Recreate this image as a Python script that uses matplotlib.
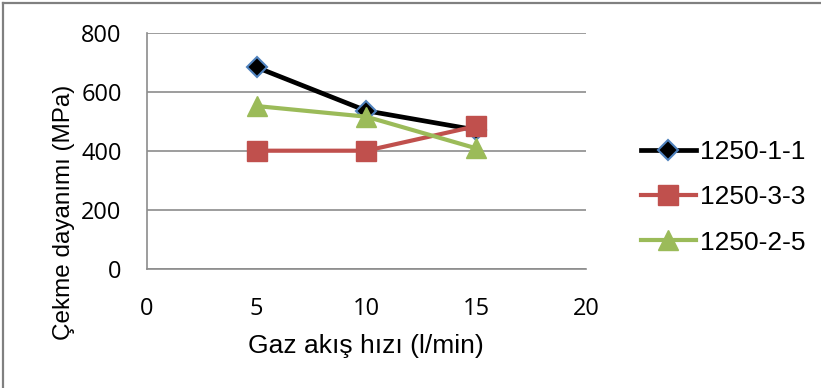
import matplotlib
matplotlib.use('Agg')
import matplotlib.pyplot as plt
from matplotlib.lines import Line2D

plt.rcParams['font.family'] = ['Liberation Sans', 'DejaVu Sans']

gas_flow = [5, 10, 15]
s_1250_1_1 = [683, 536, 471]
s_1250_3_3 = [401, 401, 484]
s_1250_2_5 = [552, 516, 409]
series_names = ['1250-1-1', '1250-3-3', '1250-2-5']
x_ticks = [0, 5, 10, 15, 20]
y_ticks = [0, 200, 400, 600, 800]

W, H = 821, 388
fig = plt.figure(figsize=(W / 100, H / 100), dpi=100)
ax = fig.add_axes([146.7 / W, 1 - 269.3 / H, (586 - 146.7) / W, (269.3 - 32.7) / H])

ax.plot(gas_flow, s_1250_1_1, color='black', lw=3.4, marker='D', ms=10,
        mfc='black', mec='#4F81BD', mew=1.5, label=series_names[0], zorder=3)
ax.plot(gas_flow, s_1250_3_3, color='#C0504D', lw=3.0, marker='s', ms=14,
        mfc='#C0504D', mec='#C0504D', label=series_names[1], zorder=4)
ax.plot(gas_flow, s_1250_2_5, color='#9BBB59', lw=3.0, marker='^', ms=15,
        mfc='#9BBB59', mec='#9BBB59', label=series_names[2], zorder=5)

ax.set_xlim(0, 20)
ax.set_ylim(0, 800)
ax.set_xticks(x_ticks)
ax.set_yticks(y_ticks)
ax.tick_params(length=0, labelsize=17, labelfontfamily='Open Sans')
ax.tick_params(axis='x', pad=20)
ax.tick_params(axis='y', pad=18)
ax.yaxis.grid(True, color='#8C8C8C', lw=1.2)
ax.set_axisbelow(True)
for s in ['top', 'right']:
    ax.spines[s].set_visible(False)
for s in ['left', 'bottom']:
    ax.spines[s].set_color('#8C8C8C')
    ax.spines[s].set_linewidth(1.2)

ax.set_xlabel('Gaz akış hızı (l/min)', fontsize=19, labelpad=9)
ax.set_ylabel('Çekme dayanımı (MPa)', fontsize=17.5)
ax.yaxis.set_label_coords(-0.163, 0.24)

ax.legend(loc='center left', bbox_to_anchor=(630 / W, 1 - 197.5 / H),
          bbox_transform=fig.transFigure, frameon=False, borderaxespad=0,
          fontsize=19, handlelength=2.1, handletextpad=0.15, labelspacing=0.8)

# outer frame: only top and left edges are visible in the picture
fig.add_artist(Line2D([3 / W, 3 / W], [0, 1 - 3 / H], transform=fig.transFigure,
                      color='#808080', lw=1.6))
fig.add_artist(Line2D([3 / W, 1], [1 - 3 / H, 1 - 3 / H], transform=fig.transFigure,
                      color='#808080', lw=1.6))

fig.savefig('out.png', dpi=100)
